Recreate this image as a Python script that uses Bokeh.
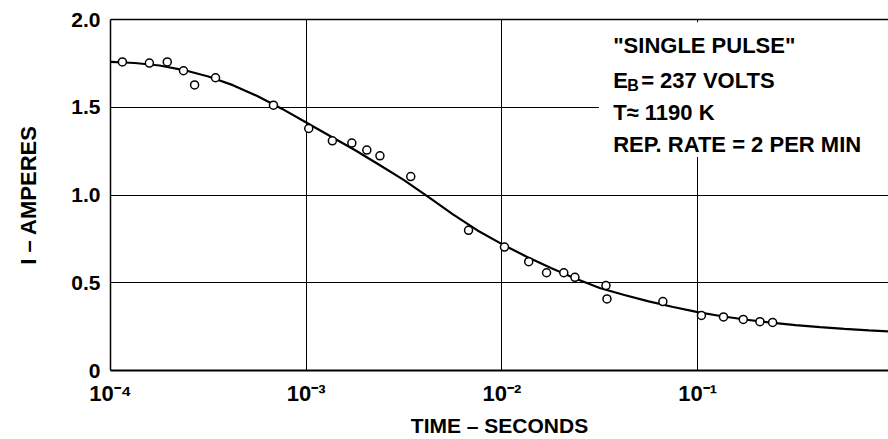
from bokeh.plotting import figure
from bokeh.models import (FixedTicker, CustomJSTickFormatter, Label, BoxAnnotation,
                          LogAxis, Range1d)
from bokeh.embed import file_html
from bokeh.resources import INLINE

# ---- data ----
pulse_t = [1.15e-4, 1.58e-4, 1.95e-4, 2.36e-4, 2.69e-4, 3.44e-4, 6.8e-4,
           1.03e-3, 1.36e-3, 1.71e-3, 2.04e-3, 2.38e-3, 3.42e-3, 6.75e-3,
           1.03e-2, 1.37e-2, 1.69e-2, 2.07e-2, 2.36e-2, 3.40e-2, 3.44e-2,
           6.64e-2, 0.1045, 0.1355, 0.171, 0.208, 0.2415]
pulse_i = [1.758, 1.752, 1.758, 1.708, 1.627, 1.668, 1.512,
           1.379, 1.309, 1.296, 1.256, 1.223, 1.105, 0.799,
           0.703, 0.620, 0.557, 0.557, 0.531, 0.484, 0.408,
           0.393, 0.314, 0.305, 0.291, 0.278, 0.274]

curve_t = [1.0e-4, 1.33e-4, 1.78e-4, 2.37e-4, 3.16e-4, 4.22e-4, 5.62e-4, 7.5e-4,
           1.0e-3, 1.33e-3, 1.78e-3, 2.37e-3, 3.16e-3, 4.22e-3, 5.62e-3, 7.5e-3,
           1.0e-2, 1.33e-2, 1.78e-2, 2.37e-2, 3.16e-2, 4.22e-2, 5.62e-2, 7.5e-2,
           0.100, 0.133, 0.178, 0.237, 0.316, 0.422, 0.562, 0.750, 0.955]
curve_i = [1.758, 1.752, 1.738, 1.712, 1.675, 1.626, 1.564, 1.492,
           1.413, 1.335, 1.255, 1.171, 1.085, 0.988, 0.890, 0.798,
           0.720, 0.650, 0.584, 0.524, 0.470, 0.430, 0.394, 0.362,
           0.333, 0.309, 0.289, 0.273, 0.259, 0.247, 0.237, 0.229, 0.223]

x_tick_exps = [-4, -3, -2, -1]
x_tick_labels = ["10\u207b\u2074", "10\u207b\u00b3", "10\u207b\u00b2", "10\u207b\u00b9"]
y_ticks = [0, 0.5, 1.0, 1.5, 2.0]
y_tick_labels = ["0", "0.5", "1.0", "1.5", "2.0"]

notes = ['"SINGLE PULSE"', "E", "B", "= 237 VOLTS", "T\u2248 1190 K", "REP. RATE = 2 PER MIN"]

FONT = "Liberation Sans"

p = figure(width=888, height=439, x_axis_type="log", output_backend="svg",
           toolbar_location=None, x_range=Range1d(1e-4, 0.944), y_range=Range1d(0, 2.0),
           min_border_left=110, min_border_right=0, min_border_top=19, min_border_bottom=68)
p.outline_line_color = None
p.background_fill_color = "white"

# axes
xa = p.xaxis[0]
xa.ticker = FixedTicker(ticks=[10.0 ** e for e in x_tick_exps])
xa.formatter = CustomJSTickFormatter(args=dict(exps=x_tick_exps, labels=x_tick_labels), code="""
const e = Math.round(Math.log10(tick));
const i = exps.indexOf(e);
return i >= 0 ? labels[i] : "";
""")
ya = p.yaxis[0]
ya.ticker = FixedTicker(ticks=y_ticks)
ya.formatter = CustomJSTickFormatter(args=dict(vals=y_ticks, labels=y_tick_labels), code="""
let best = 0;
for (let i = 0; i < vals.length; i++) { if (Math.abs(vals[i] - tick) < 1e-6) best = i; }
return labels[best];
""")
for ax in (xa, ya):
    ax.major_tick_line_color = None
    ax.minor_tick_line_color = None
    ax.major_tick_out = 0
    ax.major_tick_in = 0
    ax.axis_line_color = "black"
    ax.major_label_text_font = FONT
    ax.major_label_text_font_style = "bold"
    ax.major_label_text_color = "black"
    ax.axis_label_text_font = FONT
    ax.axis_label_text_font_style = "bold"
    ax.axis_label_text_color = "black"
xa.major_label_text_font_size = "22px"
ya.major_label_text_font_size = "21px"
xa.axis_label_text_font_size = "21px"
ya.axis_label_text_font_size = "22px"
xa.axis_line_width = 2
ya.axis_line_width = 1.5
xa.axis_label = "TIME \u2013 SECONDS"
ya.axis_label = "I \u2013 AMPERES"
xa.major_label_standoff = 10
xa.axis_label_standoff = 5
ya.major_label_standoff = 10
ya.axis_label_standoff = 27

top = LogAxis(ticker=FixedTicker(ticks=[]), axis_line_width=1.5, axis_line_color="black",
              major_tick_line_color=None, minor_tick_line_color=None,
              major_label_text_font_size="0px")
p.add_layout(top, "above")

# grid
p.xgrid.ticker = FixedTicker(ticks=[10.0 ** e for e in x_tick_exps[1:]])
p.ygrid.ticker = FixedTicker(ticks=y_ticks[1:4])
for g in (p.xgrid[0], p.ygrid[0]):
    g.grid_line_color = "black"
    g.grid_line_width = 1
    g.grid_line_alpha = 1

# data
p.line(curve_t, curve_i, line_color="black", line_width=2.2)
p.scatter(pulse_t, pulse_i, marker="circle", size=8, fill_color="white",
          line_color="black", line_width=1.5)

# blank area behind the notes
p.add_layout(BoxAnnotation(left=0.0313, right=None, bottom=1.216, top=1.985,
                           fill_color="white", fill_alpha=1, line_color=None))

FS = "22px"
ann_x = 0.037
rows = [(notes[0], 1.850, 0, 0, FS), (notes[1], 1.654, 0, 0, FS),
        (notes[2], 1.654, 14, -5, "16px"), (notes[3], 1.654, 28, 0, FS),
        (notes[4], 1.472, 0, 0, FS), (notes[5], 1.290, 0, 0, FS)]
for txt, yy, xo, yo, fs in rows:
    p.add_layout(Label(x=ann_x, y=yy, text=txt, x_offset=xo, y_offset=yo,
                       text_font=FONT, text_font_size=fs, text_font_style="bold",
                       text_baseline="middle", text_color="black"))

open("out.html", "w").write(file_html(p, INLINE))
